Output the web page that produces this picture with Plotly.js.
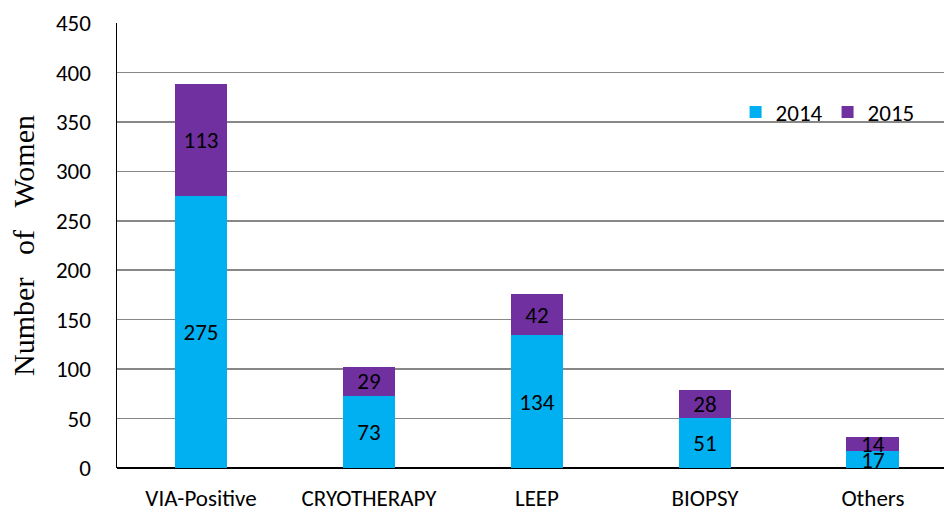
<!DOCTYPE html>
<html>
<head>
<meta charset="utf-8">
<script src="https://cdn.plot.ly/plotly-3.0.1.min.js"></script>
<style>html,body{margin:0;padding:0;background:#fff;}#chart{width:944px;height:508px;}</style>
</head>
<body>
<div id="chart"></div>
<script>
const categories = ["VIA-Positive", "CRYOTHERAPY", "LEEP", "BIOPSY", "Others"];
const values2014 = [275, 73, 134, 51, 17];
const values2015 = [113, 29, 42, 28, 14];
const seriesNames = ["2014", "2015"];
const yTicks = [0, 50, 100, 150, 200, 250, 300, 350, 400, 450];

const font = "Calibri, Carlito, 'Liberation Sans', Arial, sans-serif";
const fs = 23;

const common = {
  type: "bar",
  x: categories,
  width: 0.315,
  textposition: "inside",
  insidetextanchor: "middle",
  textangle: 0,
  constraintext: "none",
  textfont: {family: font, size: fs, color: "#000"},
  hoverinfo: "skip"
};

const traces = [
  Object.assign({}, common, {name: seriesNames[0], y: values2014, text: values2014.map(String), marker: {color: "#00B0F0"}}),
  Object.assign({}, common, {name: seriesNames[1], y: values2015, text: values2015.map(String), marker: {color: "#7030A0"}})
];

const layout = {
  barmode: "stack",
  width: 944, height: 508,
  margin: {l: 117, r: 0, t: 23, b: 40},
  paper_bgcolor: "#fff", plot_bgcolor: "#fff",
  font: {family: font, size: fs, color: "#000"},
  showlegend: true,
  legend: {orientation: "h", x: 0.748, xanchor: "left", y: 0.8, yanchor: "middle",
           font: {family: font, size: fs, color: "#000"}, traceorder: "normal",
           itemwidth: 30, bgcolor: "rgba(0,0,0,0)"},
  xaxis: {
    range: [-0.5, 4.423],
    showline: false, showgrid: false, zeroline: false,
    ticks: "", ticklabelstandoff: 14,
    tickfont: {family: font, size: fs, color: "#000"}
  },
  yaxis: {
    range: [0, 450], tickvals: yTicks, ticktext: yTicks.map(String),
    showline: true, linecolor: "#000", linewidth: 1.5,
    showgrid: true, gridcolor: "#878787", gridwidth: 1.5,
    zeroline: true, zerolinecolor: "#000", zerolinewidth: 1.5,
    ticks: "", ticklabelstandoff: 20,
    tickfont: {family: font, size: fs, color: "#000"},
    title: {text: "Number&nbsp;&nbsp;&nbsp;of&nbsp;&nbsp;&nbsp;Women", standoff: 12,
            font: {family: "'Liberation Serif', 'Times New Roman', serif", size: 30, color: "#000"}}
  }
};

Plotly.newPlot("chart", traces, layout, {staticPlot: true, displayModeBar: false});
</script>
</body>
</html>
